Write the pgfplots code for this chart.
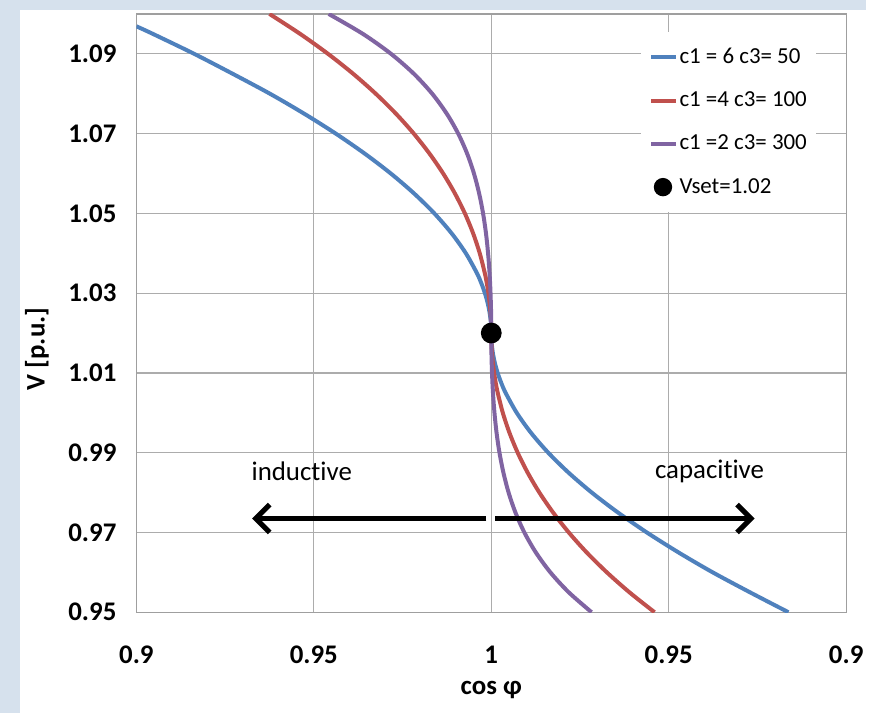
\documentclass[border=0pt]{standalone}
\usepackage{fontspec}
\setmainfont{Carlito}[Ligatures=NoCommon]
\usepackage{pgfplots}
\pgfplotsset{compat=1.18}
\usepackage{pgfplotstable}
\usetikzlibrary{arrows.meta,calc,backgrounds}

\definecolor{xlblue}{RGB}{79,129,189}
\definecolor{xlred}{RGB}{192,80,77}
\definecolor{xlpurple}{RGB}{128,100,162}
\definecolor{slidebg}{RGB}{214,225,237}

% x = signed distance from cos phi = 1 (negative: inductive, positive: capacitive)
\pgfplotstableread{
x y
-0.10000 1.0969
-0.09536 1.095
-0.08373 1.09
-0.07288 1.085
-0.06238 1.08
-0.05274 1.075
-0.04383 1.07
-0.03569 1.065
-0.02832 1.06
-0.02177 1.055
-0.01605 1.05
-0.01118 1.045
-0.00717 1.04
-0.00404 1.035
-0.00281 1.0325
-0.00180 1.03
-0.00101 1.0275
-0.00045 1.025
-0.00011 1.0225
0 1.02
0.00011 1.0175
0.00045 1.015
0.00101 1.0125
0.00180 1.01
0.00281 1.0075
0.00404 1.005
0.00717 1.00
0.01118 0.995
0.01605 0.99
0.02177 0.985
0.02832 0.98
0.03569 0.975
0.04383 0.97
0.05274 0.965
0.06238 0.96
0.07288 0.955
0.08373 0.95
}\blue

\pgfplotstableread{
x y
-0.06250 1.10
-0.05386 1.095
-0.04601 1.09
-0.03892 1.085
-0.03256 1.08
-0.02687 1.075
-0.02184 1.07
-0.01742 1.065
-0.01356 1.06
-0.01025 1.055
-0.00744 1.05
-0.00512 1.045
-0.00325 1.04
-0.00182 1.035
-0.00126 1.0325
-0.00080 1.03
-0.00045 1.0275
-0.00020 1.025
-0.00005 1.0225
0 1.02
0.00005 1.0175
0.00020 1.015
0.00045 1.0125
0.00080 1.01
0.00126 1.0075
0.00182 1.005
0.00325 1.00
0.00512 0.995
0.00744 0.99
0.01025 0.985
0.01356 0.98
0.01742 0.975
0.02184 0.97
0.02687 0.965
0.03256 0.96
0.03892 0.955
0.04601 0.95
}\red

\pgfplotstableread{
x y
-0.04582 1.10
-0.03618 1.095
-0.02826 1.09
-0.02182 1.085
-0.01665 1.08
-0.01255 1.075
-0.00932 1.07
-0.00681 1.065
-0.00488 1.06
-0.00342 1.055
-0.00231 1.05
-0.00149 1.045
-0.00090 1.04
-0.00048 1.035
-0.00021 1.03
-0.00005 1.025
0 1.02
0.00005 1.015
0.00021 1.01
0.00048 1.005
0.00090 1.00
0.00149 0.995
0.00231 0.99
0.00342 0.985
0.00488 0.98
0.00681 0.975
0.00932 0.97
0.01255 0.965
0.01665 0.96
0.02182 0.955
0.02826 0.95
}\purple

\begin{document}
\begin{tikzpicture}
\begin{axis}[
    name=ax,
    scale only axis,
    width=356.5pt, height=300.5pt,
    xmin=-0.1, xmax=0.1,
    ymin=0.95, ymax=1.10,
    xtick={-0.1,-0.05,0,0.05,0.1},
    xticklabels={0.9,0.95,1,0.95,0.9},
    ytick={0.95,0.97,0.99,1.01,1.03,1.05,1.07,1.09},
    yticklabels={0.95,0.97,0.99,1.01,1.03,1.05,1.07,1.09},
    major tick length=0pt,
    grid=major,
    grid style={gray!65, line width=0.6pt},
    axis line style={gray!75, line width=0.6pt},
    ticklabel style={font=\bfseries\fontsize{13.5}{16}\selectfont},
    xticklabel style={anchor=center, yshift=-21.5pt},
    yticklabel style={anchor=east, xshift=-6.5pt},
    xlabel={cos φ},
    ylabel={V [p.u.]},
    every axis x label/.style={at={(rel axis cs:0.5,0)}, yshift=-39pt, anchor=center, font=\bfseries\fontsize{13.5}{16}\selectfont},
    every axis y label/.style={at={(rel axis cs:0,0.44)}, xshift=-50pt, rotate=90, anchor=center, font=\bfseries\fontsize{13.5}{16}\selectfont},
    legend style={at={(axis cs:0.0421,1.0955)}, anchor=north west, draw=none, fill=white,
        font=\fontsize{11.5}{13}\selectfont, row sep=8.7pt, inner xsep=4pt, inner ysep=6pt,
        nodes={inner xsep=0.8pt}},
    legend cell align=left,
    legend image code/.code={\draw[#1, line width=2pt] (0pt,0pt) -- (12.5pt,0pt);},
    every axis plot/.append style={line width=2pt},
]
\addplot[xlblue, smooth] table {\blue};
\addlegendentry{c1 = 6 c3= 50}
\addplot[xlred, smooth] table {\red};
\addlegendentry{c1 =4 c3= 100}
\addplot[xlpurple, smooth] table {\purple};
\addlegendentry{c1 =2 c3= 300}
\addplot[only marks, mark=*, mark size=4.2pt, black,
    legend image code/.code={\fill[black] (6pt,0pt) circle (3.6pt);}] coordinates {(0,1.02)};
\addlegendentry{Vset=1.02}

\draw[line width=2.6pt, -{Straight Barb[length=7pt, width=14pt]}] (axis cs:-0.0014,0.9735) -- (axis cs:-0.0674,0.9735);
\draw[line width=2.6pt, -{Straight Barb[length=7pt, width=14pt]}] (axis cs:0.0011,0.9735) -- (axis cs:0.0742,0.9735);
\node[font=\fontsize{13.5}{16}\selectfont] at (axis cs:-0.0534,0.9853) {inductive};
\node[font=\fontsize{13.5}{16}\selectfont] at (axis cs:0.0615,0.9853) {capacitive};
\end{axis}
\begin{scope}[on background layer]
\fill[slidebg] ($(ax.south west)+(-68.5pt,-50.5pt)$) rectangle ($(ax.north east)+(10pt,7pt)$);
\fill[white] ($(ax.south west)+(-58.5pt,-50.5pt)$) rectangle ($(ax.north east)+(10pt,2pt)$);
\end{scope}
\end{tikzpicture}
\end{document}
